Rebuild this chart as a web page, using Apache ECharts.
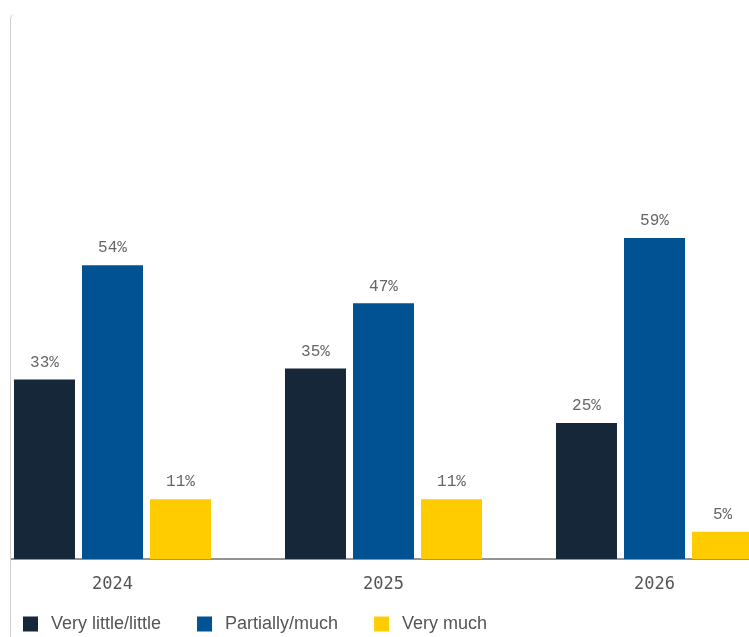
<!DOCTYPE html>
<html>
<head>
<meta charset="utf-8">
<script src="https://cdn.jsdelivr.net/npm/echarts@6/dist/echarts.min.js"></script>
<style>
  html, body { margin: 0; padding: 0; background: #fff; width: 749px; height: 637px; overflow: hidden; }
  #card {
    position: absolute; left: 10px; top: 14px; width: 739px; height: 623px;
    border-left: 1px solid #cfcfcf; border-top-left-radius: 5px; overflow: hidden;
  }
  #chart { position: absolute; left: -34px; top: -14px; width: 813px; height: 637px; }
</style>
</head>
<body>
<div id="card"><div id="chart"></div></div>
<script>
// Survey answers per year, in percent
const years = ['2024', '2025', '2026'];
const seriesNames = ['Very little/little', 'Partially/much', 'Very much'];
const veryLittle = [33, 35, 25];
const partiallyMuch = [54, 47, 59];
const veryMuch = [11, 11, 5];
const colors = ['#16273a', '#005293', '#ffcc00'];

const chart = echarts.init(document.getElementById('chart'));
const labelFont = '"Liberation Mono", "DejaVu Sans Mono", monospace';
const axisFont = '"DejaVu Sans Mono", "Liberation Mono", monospace';

function barSeries(name, data, color) {
  return {
    name: name,
    type: 'bar',
    data: data,
    barWidth: 61,
    barGap: '11.5%',
    itemStyle: { color: color },
    label: {
      show: true,
      position: 'top',
      distance: 9,
      formatter: '{c}%',
      fontFamily: labelFont,
      fontSize: 16,
      color: '#666'
    }
  };
}

chart.setOption({
  animation: false,
  color: colors,
  grid: { left: 0, right: 0, top: 15, bottom: 78, containLabel: false, outerBoundsMode: 'none' },
  legend: {
    left: 41,
    top: 610,
    itemWidth: 15,
    itemHeight: 15,
    itemGap: 36,
    icon: 'rect',
    textStyle: {
      fontFamily: '"Liberation Sans", Arial, sans-serif',
      fontSize: 18,
      color: '#555',
      padding: [0, 0, 0, 8]
    },
    data: seriesNames
  },
  xAxis: {
    type: 'category',
    data: years,
    axisTick: { show: false },
    axisLine: { lineStyle: { color: '#6f6f6f', width: 1.5 } },
    axisLabel: { margin: 17, fontFamily: axisFont, fontSize: 17, color: '#555' }
  },
  yAxis: {
    type: 'value',
    min: 0,
    max: 100,
    show: false,
    splitLine: { show: false }
  },
  series: [
    barSeries(seriesNames[0], veryLittle, colors[0]),
    barSeries(seriesNames[1], partiallyMuch, colors[1]),
    barSeries(seriesNames[2], veryMuch, colors[2])
  ]
});
</script>
</body>
</html>
